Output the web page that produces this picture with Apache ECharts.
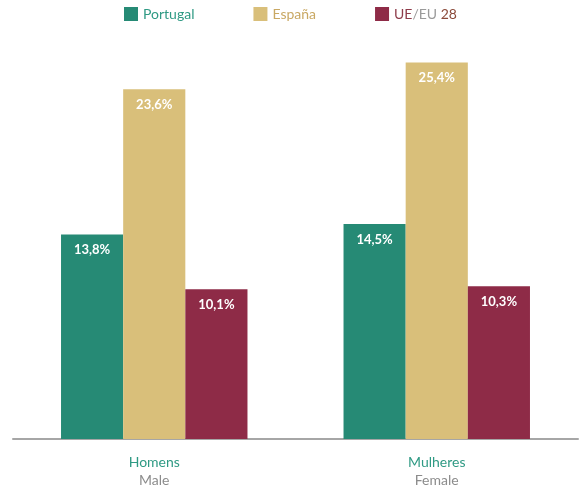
<!DOCTYPE html>
<html><head><meta charset="utf-8">
<script src="https://cdn.jsdelivr.net/npm/echarts@6/dist/echarts.min.js"></script>
<style>html,body{margin:0;padding:0;background:#fff}#c{width:579px;height:490px}</style>
</head><body><div id="c"></div>
<script>
var categoriesPT = ['Homens', 'Mulheres'];
var categoriesEN = ['Male', 'Female'];
var seriesNames = ['Portugal', 'España', 'UE/EU 28'];
var portugal = [13.8, 14.5];
var espana = [23.6, 25.4];
var eu28 = [10.1, 10.3];

var colors = ['#268a75', '#d9bf7a', '#8e2b47'];
var FONT = 'Lato, "Open Sans", sans-serif';
var chart = echarts.init(document.getElementById('c'));
function lbl() {
  return {show: true, position: 'insideTop', distance: 9, color: '#fff', fontWeight: 'bold', fontSize: 13, fontFamily: FONT,
    formatter: function (p) { return p.value.toFixed(1).replace('.', ',') + '%'; }};
}
chart.setOption({
  animation: false,
  textStyle: {fontFamily: FONT},
  legend: {
    top: 2, left: 119, itemWidth: 14, itemHeight: 14, itemGap: 59, icon: 'rect',
    data: seriesNames.map(function (n, i) { return {name: n}; }),
    formatter: function (n) {
      if (n === 'Portugal') return '{pt|Portugal}';
      if (n === 'España') return '{es|España}';
      return '{ue|UE}{sl|/EU} {n|28}';
    },
    textStyle: {fontSize: 14, fontFamily: FONT,
      rich: {
        pt: {color: '#2f9a84', fontSize: 14, fontFamily: FONT},
        es: {color: '#c9a863', fontSize: 14, fontFamily: FONT},
        ue: {color: '#8e3b4a', fontSize: 14, fontFamily: FONT},
        sl: {color: '#9a9a9a', fontSize: 14, fontFamily: FONT},
        n: {color: '#8b4a3a', fontSize: 14, fontFamily: FONT}
      }}
  },
  grid: {left: 13, right: 1, top: 24, bottom: 51},
  xAxis: {
    type: 'category', data: categoriesPT,
    axisLine: {lineStyle: {color: '#a6a6a6', width: 2}},
    axisTick: {show: false},
    axisLabel: {
      margin: 14, lineHeight: 18,
      formatter: function (v, i) { return '{a|' + v + '}\n{b|' + categoriesEN[i] + '}'; },
      rich: {
        a: {color: '#2f9a84', fontSize: 14, fontFamily: FONT, lineHeight: 18},
        b: {color: '#8c8c8c', fontSize: 14, fontFamily: FONT, lineHeight: 18}
      }
    }
  },
  yAxis: {type: 'value', min: 0, max: 28, show: false, splitLine: {show: false}},
  series: [
    {name: seriesNames[0], type: 'bar', data: portugal, itemStyle: {color: colors[0]}, barGap: '0%', barCategoryGap: '34%', label: lbl()},
    {name: seriesNames[1], type: 'bar', data: espana, itemStyle: {color: colors[1]}, barGap: '0%', barCategoryGap: '34%', label: lbl()},
    {name: seriesNames[2], type: 'bar', data: eu28, itemStyle: {color: colors[2]}, barGap: '0%', barCategoryGap: '34%', label: lbl()}
  ]
});
</script></body></html>
